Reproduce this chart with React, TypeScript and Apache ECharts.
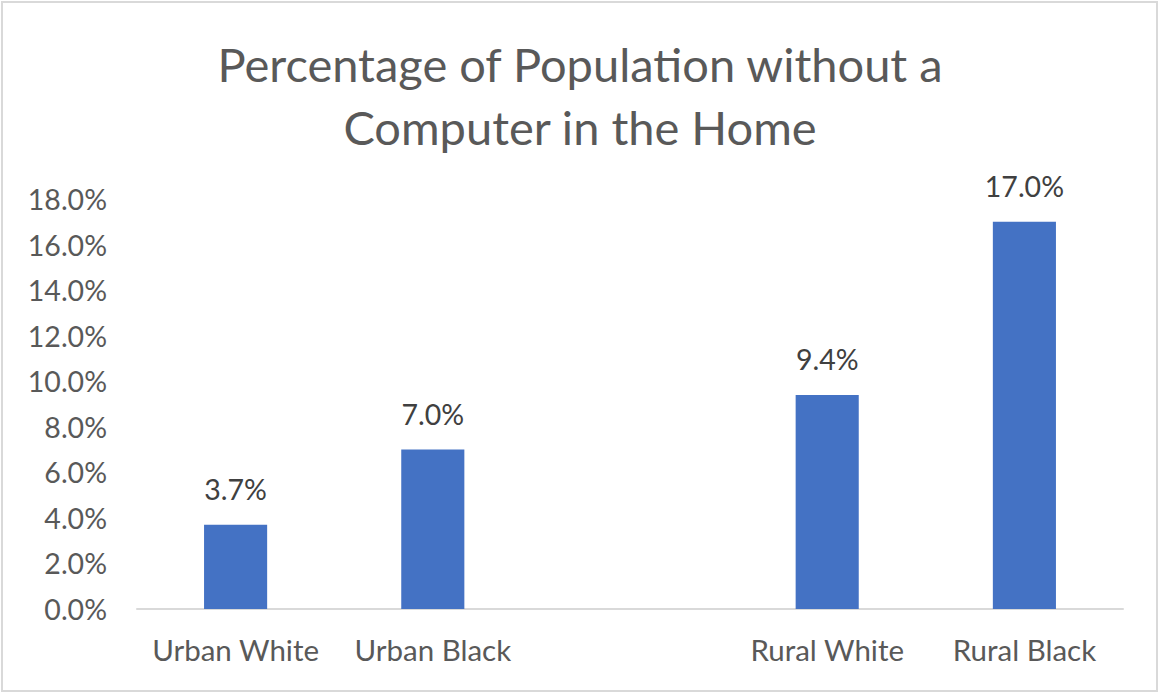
import React, { useEffect, useRef } from "react";
import * as echarts from "echarts";

const categories = ["Urban White", "Urban Black", "", "Rural White", "Rural Black"];
const values: (number | null)[] = [3.7, 7.0, null, 9.4, 17.0];
const titleText = "Percentage of Population without a\nComputer in the Home";
const yMin = 0;
const yMax = 18;
const yInterval = 2;

export default function App() {
  const ref = useRef<HTMLDivElement>(null);
  useEffect(() => {
    if (!ref.current) return;
    const chart = echarts.init(ref.current, undefined, { renderer: "svg" });
    const font = "Lato, 'Open Sans', sans-serif";
    chart.setOption({
      animation: false,
      backgroundColor: "#ffffff",
      textStyle: { fontFamily: font },
      title: {
        text: titleText,
        left: "center",
        top: 27,
        textStyle: {
          fontFamily: font,
          fontSize: 47,
          fontWeight: "normal",
          color: "#595959",
          lineHeight: 63,
        },
      },
      graphic: [
        {
          type: "rect",
          shape: { x: 2, y: 2, width: 1155, height: 689 },
          style: { fill: "none", stroke: "#d9d9d9", lineWidth: 2 },
          silent: true,
        },
      ],
      grid: { left: 137, right: 37, top: 199, bottom: 86, containLabel: false },
      xAxis: {
        type: "category",
        data: categories,
        axisLine: { show: true, lineStyle: { color: "#d9d9d9", width: 2 } },
        axisTick: { show: false },
        axisLabel: {
          color: "#595959",
          fontSize: 29.5,
          margin: 25,
          fontFamily: font,
          interval: 0,
          hideOverlap: false,
        },
      },
      yAxis: {
        type: "value",
        min: yMin,
        max: yMax,
        interval: yInterval,
        splitLine: { show: false },
        axisLine: { show: false },
        axisTick: { show: false },
        axisLabel: {
          color: "#595959",
          fontSize: 28.5,
          margin: 30,
          fontFamily: font,
          formatter: (v: number) => v.toFixed(1) + "%",
        },
      },
      series: [
        {
          type: "bar",
          data: values,
          barWidth: "32%",
          itemStyle: { color: "#4472C4" },
          label: {
            show: true,
            position: "top",
            distance: 21,
            color: "#404040",
            fontSize: 28.5,
            fontFamily: font,
            formatter: (p: any) => (p.value == null ? "" : Number(p.value).toFixed(1) + "%"),
          },
        },
      ],
    });
    return () => chart.dispose();
  }, []);
  return (
    <div
      ref={ref}
      style={{ position: "fixed", left: 0, top: 0, width: 1160, height: 695 }}
    />
  );
}
